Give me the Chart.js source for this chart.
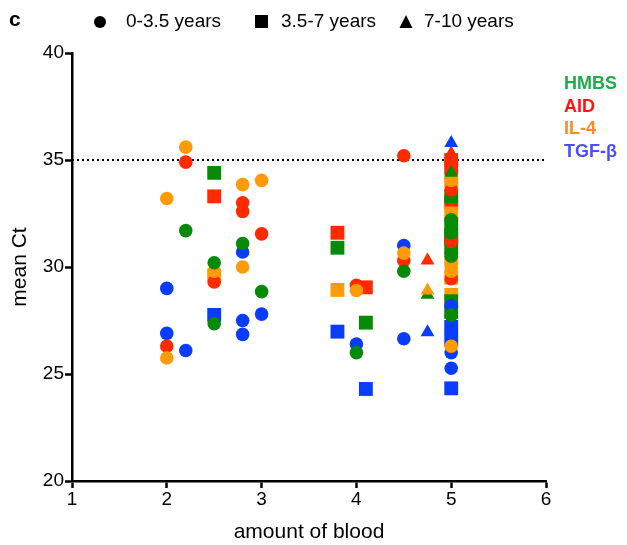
<!DOCTYPE html>
<html>
  <head>
    <meta charset="utf-8" />
    <title>mean Ct vs amount of blood</title>
    <script src="https://cdn.jsdelivr.net/npm/chart.js"></script>
    <style>
      html, body { margin: 0; padding: 0; background: #fff; }
      #wrap { width: 627px; height: 545px; }
    </style>
  </head>
  <body>
    <div id="wrap">
      <canvas id="myChart" width="627" height="545"></canvas>
    </div>
    <script>
      // values: [amount of blood, mean Ct]
      // circles = 0-3.5 years, squares = 3.5-7 years, triangles = 7-10 years
      const hmbsYoung = [[2.2, 31.7], [2.5, 30.2], [2.5, 27.35], [2.8, 31.1], [3, 28.85], [4, 26.0], [4.5, 29.8],
        [5, 32.2], [5, 31.6], [5, 30.5], [5, 27.75]];
      const aidYoung = [[2, 26.3], [2.2, 34.9], [2.5, 29.3], [2.8, 33.0], [2.8, 32.6], [3, 31.55], [4, 29.15],
        [4.5, 35.2], [4.5, 30.3], [5, 33.6], [5, 31.2], [5, 29.45]];
      const il4Young = [[2, 33.2], [2, 25.75], [2.2, 35.6], [2.5, 29.8], [2.8, 33.85], [2.8, 30.0], [3, 34.05],
        [4, 28.9], [4.5, 30.65], [5, 34.05], [5, 30.0], [5, 29.8], [5, 26.3]];
      const tgfYoung = [[2, 29.0], [2, 26.9], [2.2, 26.1], [2.8, 30.7], [2.8, 27.5], [2.8, 26.85], [3, 27.8],
        [4, 26.4], [4.5, 31.0], [4.5, 26.65], [5, 28.2], [5, 26.0], [5, 25.27]];

      const hmbsMid = [[2.5, 34.4], [3.8, 30.9], [4.1, 27.4], [5, 33.3], [5, 32.0], [5, 31.5], [5, 30.9],
        [5, 28.4], [5, 27.9]];
      const aidMid = [[2.5, 33.3], [3.8, 31.6], [4.1, 29.05], [5, 35.0], [5, 34.6], [5, 33.0], [5, 31.3]];
      const il4Mid = [[2.5, 29.6], [3.8, 28.93], [5, 33.9], [5, 32.5], [5, 30.4], [5, 29.5], [5, 28.7]];
      const tgfMid = [[2.5, 27.76], [3.8, 26.98], [4.1, 24.3], [5, 27.2], [5, 26.6], [5, 24.33]];

      const hmbsOld = [[4.75, 28.7], [5, 34.4]];
      const aidOld = [[4.75, 30.3], [5, 35.3]];
      const il4Old = [[4.75, 28.9]];
      const tgfOld = [[4.75, 26.95], [5, 35.8]];

      const cutoff = 35;
      const xTicks = [1, 2, 3, 4, 5, 6];
      const yTicks = [20, 25, 30, 35, 40];
      const ageLabels = ["0-3.5 years", "3.5-7 years", "7-10 years"];
      const geneLabels = ["HMBS", "AID", "IL-4", "TGF-\u03b2"];

      const markColors = { HMBS: "#078a07", AID: "#ff2a00", "IL-4": "#ff9a08", "TGF-\u03b2": "#0a3cff" };
      const textColors = ["#1fab4c", "#ff1414", "#ff8a1e", "#4b4dff"];
      const FONT = "'Liberation Sans', Arial, Helvetica, sans-serif";

      function pts(list) {
        return list.map(function (p) { return { x: p[0], y: p[1] }; });
      }

      function scatterSet(gene, shape, list) {
        var r = shape === "circle" ? 6.8 : shape === "rect" ? 9.8 : 8;
        return {
          type: "scatter",
          label: gene,
          data: pts(list),
          pointStyle: shape,
          pointRadius: r,
          pointHoverRadius: r,
          pointBackgroundColor: markColors[gene],
          pointBorderWidth: 0,
          borderWidth: 0,
          clip: false,
          order: 1,
        };
      }

      // dataset 0 ends up on top
      const datasets = [
        scatterSet("TGF-\u03b2", "triangle", tgfOld),
        scatterSet("IL-4", "triangle", il4Old),
        scatterSet("AID", "triangle", aidOld),
        scatterSet("HMBS", "triangle", hmbsOld),
        scatterSet("HMBS", "circle", hmbsYoung),
        scatterSet("IL-4", "circle", il4Young),
        scatterSet("AID", "circle", aidYoung),
        scatterSet("TGF-\u03b2", "circle", tgfYoung),
        scatterSet("HMBS", "rect", hmbsMid),
        scatterSet("IL-4", "rect", il4Mid),
        scatterSet("AID", "rect", aidMid),
        scatterSet("TGF-\u03b2", "rect", tgfMid),
        {
          type: "line",
          label: "cutoff",
          data: [{ x: xTicks[0], y: cutoff }, { x: xTicks[xTicks.length - 1], y: cutoff }],
          borderColor: "#000",
          borderWidth: 2,
          borderDash: [2, 3],
          pointRadius: 0,
          order: 10,
        },
      ];

      // legends drawn on the canvas
      const legendPlugin = {
        id: "legends",
        afterDraw: function (chart) {
          const ctx = chart.ctx;
          ctx.save();
          ctx.fillStyle = "#000";
          ctx.textBaseline = "middle";
          ctx.textAlign = "left";
          ctx.font = "bold 21px " + FONT;
          ctx.fillText("c", 9, 20);

          ctx.font = "19px " + FONT;
          // circle
          ctx.beginPath();
          ctx.arc(100, 22, 6, 0, Math.PI * 2);
          ctx.fill();
          ctx.fillText(ageLabels[0], 126, 22);
          // square
          ctx.fillRect(255, 15, 13, 13);
          ctx.fillText(ageLabels[1], 281, 22);
          // triangle
          ctx.beginPath();
          ctx.moveTo(406, 15);
          ctx.lineTo(412.5, 28);
          ctx.lineTo(399.5, 28);
          ctx.closePath();
          ctx.fill();
          ctx.fillText(ageLabels[2], 424, 22);

          ctx.font = "bold 18px " + FONT;
          geneLabels.forEach(function (g, i) {
            ctx.fillStyle = textColors[i];
            ctx.fillText(g, 564, 84 + i * 22.6);
          });
          ctx.restore();
        },
      };

      const config = {
        data: { datasets: datasets },
        options: {
          responsive: false,
          animation: false,
          layout: { padding: { top: 53, right: 81, left: 0, bottom: 0 } },
          plugins: {
            legend: { display: false },
            tooltip: { enabled: false },
          },
          scales: {
            x: {
              type: "linear",
              min: 1,
              max: 6,
              afterFit: function (s) { s.height = 64; },
              afterBuildTicks: function (s) { s.ticks = xTicks.map(function (v) { return { value: v }; }); },
              grid: { drawOnChartArea: false, drawTicks: true, tickLength: 7, tickWidth: 2.5, tickColor: "#000" },
              border: { display: true, color: "#000", width: 2.5 },
              ticks: { color: "#000", padding: 0, font: { family: FONT, size: 19 } },
              title: {
                display: true,
                text: "amount of blood",
                color: "#000",
                font: { family: FONT, size: 21 },
                padding: { top: 0, bottom: 0 },
              },
            },
            y: {
              type: "linear",
              min: 20,
              max: 40,
              afterFit: function (s) { s.width = 72; },
              afterBuildTicks: function (s) { s.ticks = yTicks.map(function (v) { return { value: v }; }); },
              grid: { drawOnChartArea: false, drawTicks: true, tickLength: 7, tickWidth: 2.5, tickColor: "#000" },
              border: { display: true, color: "#000", width: 2.5 },
              ticks: { color: "#000", padding: 1, font: { family: FONT, size: 19 } },
              title: {
                display: true,
                text: "mean Ct",
                color: "#000",
                font: { family: FONT, size: 21 },
                padding: { top: 8, bottom: 0 },
              },
            },
          },
        },
        plugins: [legendPlugin],
      };

      const myChart = new Chart(document.getElementById("myChart"), config);
    </script>
  </body>
</html>
